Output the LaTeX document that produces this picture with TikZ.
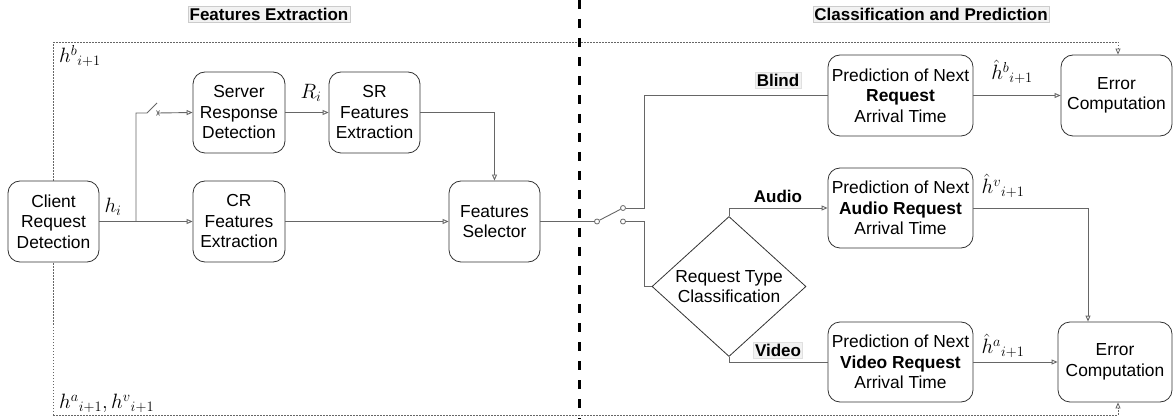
\documentclass[tikz,border=0pt]{standalone}
\usepackage[no-math]{fontspec}
\setmainfont{Liberation Sans}
\usetikzlibrary{arrows.meta,shapes.geometric,calc}
\definecolor{lnc}{HTML}{666666}
\definecolor{bxc}{HTML}{333333}
\definecolor{ttl}{HTML}{F2F2F2}
\tikzset{
  txt/.style={font=\fontsize{17.4}{20.5}\selectfont},
  blk/.style={txt, draw=bxc, fill=white, rounded corners=12pt, align=center, inner sep=0pt, line width=0.8pt},
  wire/.style={draw=lnc, line width=0.9pt},
  arr/.style={wire, -{Triangle[open, length=6pt, width=5pt]}},
  fb/.style={draw=lnc, line width=0.8pt, dash pattern=on 1.5pt off 1.5pt},
  fbarr/.style={fb, -{Triangle[open, length=6pt, width=5pt]}},
  ttlbox/.style={txt, font=\fontsize{17}{20.5}\selectfont\bfseries, fill=ttl, draw=black!20, inner sep=1.5pt},
  mth/.style={font=\fontsize{20.74}{24}\selectfont, inner sep=0pt},
  contact/.style={circle, draw=lnc, fill=white, line width=0.8pt, inner sep=0pt, minimum size=5pt},
}
\begin{document}
\begin{tikzpicture}[x=1pt,y=-1pt]
\useasboundingbox (0,0) rectangle (1174,419);

% titles
\node[ttlbox] (t1) at (269,14) {Features Extraction};
\node[ttlbox] (t2) at (931,14) {Classification and Prediction};

% helper x positions
\coordinate (xf) at (1118,0);
\coordinate (xa) at (1088,0);

% feedback dotted frame (drawn first, boxes cover it)
\coordinate (ftl) at (53,42);
\coordinate (fbl) at (53,415);
\coordinate (ftr) at (1118,42);
\coordinate (fbr) at (1118,415);

% nodes
\node[blk, minimum width=92pt, minimum height=81pt] (crfe) at (239,221.5) {CR\\Features\\Extraction};
\node[blk, minimum width=92pt, minimum height=81pt] (srd) at (239,112.5) {Server\\Response\\Detection};
\node[blk, minimum width=91pt, minimum height=81pt] (srfe) at (374.5,112.5) {SR\\Features\\Extraction};
\node[blk, minimum width=91pt, minimum height=81pt] (fs) at (494.5,221.5) {Features\\Selector};
\node[blk, minimum width=145pt, minimum height=81pt] (pb) at (900.5,95.5) {Prediction of Next\\\textbf{Request}\\Arrival Time};
\node[blk, minimum width=145pt, minimum height=80pt] (pa) at (900.5,208) {Prediction of Next\\\textbf{Audio Request}\\Arrival Time};
\node[blk, minimum width=145pt, minimum height=80pt] (pv) at (900.5,362) {Prediction of Next\\\textbf{Video Request}\\Arrival Time};
\node[blk, minimum width=111pt, minimum height=81pt] (ect) at (1116.5,95.5) {Error\\Computation};
\node[blk, minimum width=114pt, minimum height=80pt] (ecb) at (1115,362) {Error\\Computation};
\node[txt, diamond, draw=bxc, fill=white, line width=0.8pt, align=center, inner sep=0pt, minimum width=154pt, minimum height=121pt] (rtc) at (729,286.5) {Request Type\\Classification};

\draw[fb] (fbl) -- (ftl);
\draw[fbarr] (ftl) -- (ftr) -- (ect.north -| xf);
\draw[fbarr] (fbl) -- (fbr) -- (ecb.south -| xf);

% client box drawn over the dotted line
\node[blk, minimum width=91pt, minimum height=81pt] (crd) at (53.5,221.5) {Client\\Request\\Detection};

% thick dashed separator
\coordinate (septop) at (579,0);
\coordinate (sepbot) at (579,419);
\draw[line width=3pt, dash pattern=on 9pt off 10pt] (septop) -- (sepbot);

% feature extraction wiring
\coordinate (br) at (136,221.5);
\coordinate (bru) at (136,113);
\coordinate (sw1) at (147,113);
\coordinate (sw2) at (157,103);
\coordinate (sw3) at (158,113);
\draw[arr] (crd.east) -- (crfe.west);
\draw[wire] (br) -- (bru) -- (sw1) -- (sw2);
\draw[arr] (sw3) -- (srd.west);
\draw[lnc, line width=0.7pt] ($(sw3)+(-1.5,-2.5)$) -- ($(sw3)+(1.5,2.5)$);
\draw[lnc, line width=0.7pt] ($(sw3)+(1.5,-2.5)$) -- ($(sw3)+(-1.5,2.5)$);
\draw[arr] (srd.east) -- (srfe.west);
\draw[arr] (srfe.east) -| (fs.north);
\draw[arr] (crfe.east) -- (fs.west);

% output switch
\node[contact] (c0) at (597,221.5) {};
\node[contact] (c1) at (623,208) {};
\node[contact] (c2) at (623,221.5) {};
\coordinate (bx1) at (644,208);
\coordinate (bx2) at (644,221.5);
\draw[wire] (fs.east) -- (c0.west);
\draw[wire] (c0) -- (c1);
\draw[wire] (c1.east) -- (bx1) |- (pb.west);
\draw[wire] (c2.east) -- (bx2) |- (rtc.west);
\draw[arr] (rtc.north) |- (pa.west);
\draw[wire] (rtc.south) |- (pv.west);

% prediction outputs
\draw[arr] (pb.east) -- (ect.west);
\draw[arr] (pa.east) -| (ecb.north -| xa);
\draw[arr] (pv.east) -- (ecb.west);

% labels
\node[mth, anchor=north west] (lb) at (59,45) {$h^b{}_{i+1}$};
\node[mth, anchor=south west] (lav) at (59,413) {$h^a{}_{i+1}, h^v{}_{i+1}$};
\node[mth] (lhi) at (113,207) {$h_i$};
\node[mth] (lri) at (311,93) {$R_i$};
\node[mth] (lhb) at (1012,72) {$\hat{h}^b{}_{i+1}$};
\node[mth] (lhv) at (1003,186) {$\hat{h}^v{}_{i+1}$};
\node[mth] (lha) at (1003,346) {$\hat{h}^a{}_{i+1}$};
\node[ttlbox, draw=black!12] (lblind) at (778,80) {Blind};
\node[txt, font=\fontsize{17}{20.5}\selectfont\bfseries, inner sep=1.5pt] (laudio) at (778,196) {Audio};
\node[ttlbox, draw=black!12] (lvideo) at (778,350) {Video};
\end{tikzpicture}
\end{document}
